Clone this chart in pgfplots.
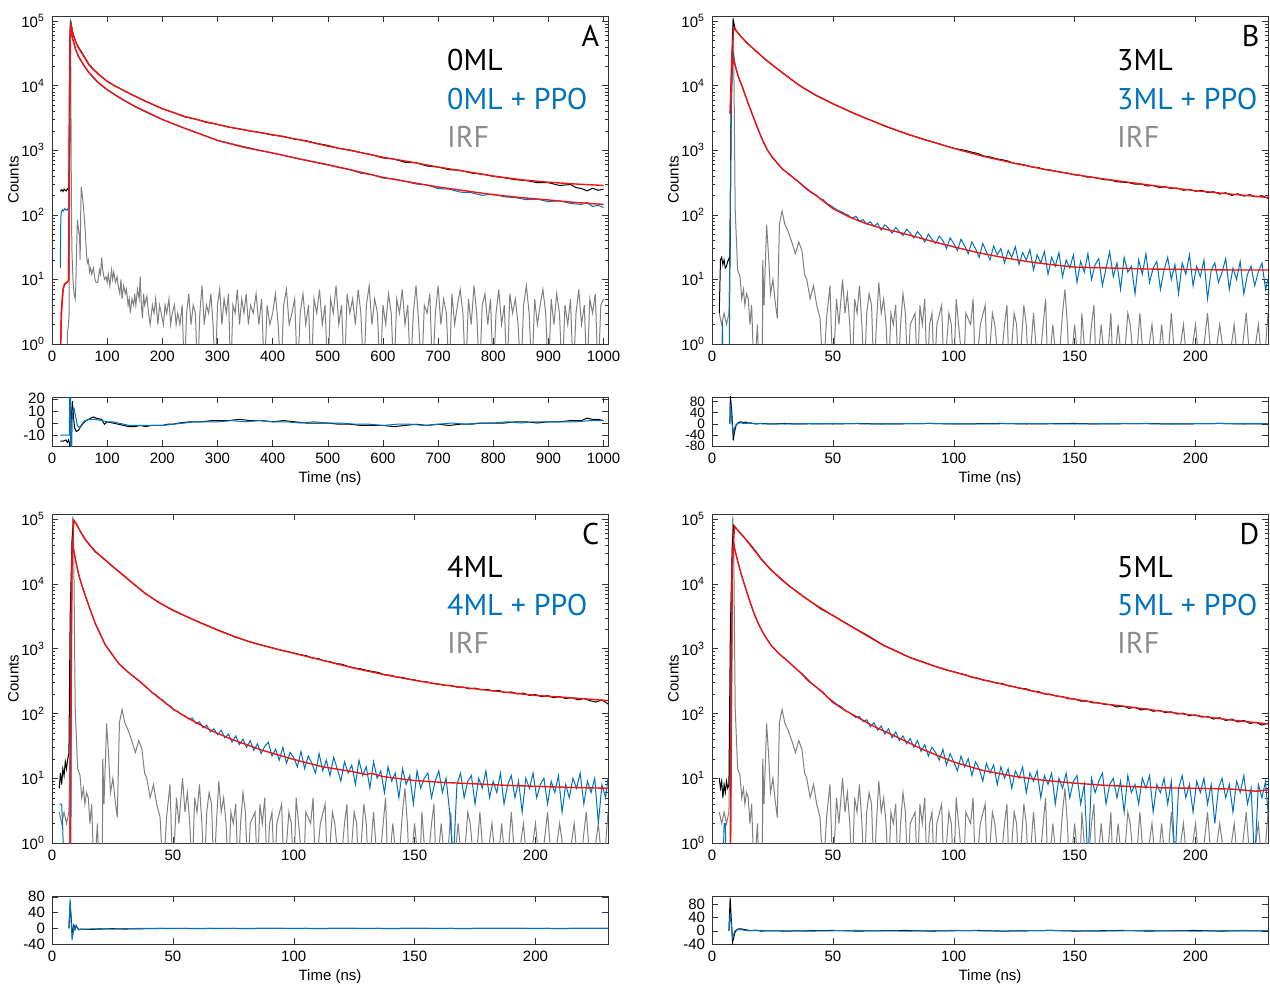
\documentclass[border=0pt]{standalone}
\usepackage{fontspec}
\setmainfont{Liberation Sans}
\newfontfamily\labfont{PT Sans}
\usepackage{pgfplots}
\usepackage{pgfplotstable}
\pgfplotsset{compat=1.18}

\definecolor{mblue}{RGB}{0,114,189}
\definecolor{mgray}{RGB}{128,128,128}
\definecolor{mred}{RGB}{238,20,20}
\definecolor{irfgray}{RGB}{140,140,140}

\tikzset{big/.style={font=\labfont\fontsize{15}{18}\selectfont, inner sep=0pt}}

\pgfplotsset{
  trpl/.style={
    scale only axis, width=278pt, anchor=south west,
    xmin=0, xmax=230, xtick={0,50,...,200},
    tick label style={font=\fontsize{7.5}{8}\selectfont},
    label style={font=\fontsize{7.5}{8}\selectfont},
    /pgf/number format/assume math mode=true,
    /pgf/number format/1000 sep={},
    axis line style={black!80}, tick style={black!80},
    major tick length=3pt, minor tick length=1.6pt, clip mode=individual,
  },
  mainax/.style={trpl, height=164pt,
    ymin=1, ymax=1.2e5,
    ytick={1,10,100,1000,10000,100000},
    minor ytick={2,3,4,5,6,7,8,9,20,30,40,50,60,70,80,90,200,300,400,500,600,700,800,900,2000,3000,4000,5000,6000,7000,8000,9000,20000,30000,40000,50000,60000,70000,80000,90000},
    yticklabels={10\textsuperscript{0},10\textsuperscript{1},10\textsuperscript{2},10\textsuperscript{3},10\textsuperscript{4},10\textsuperscript{5}},
    ylabel={Counts}, ylabel style={yshift=-5.5pt},
  },
  resax/.style={trpl, height=24.5pt, xlabel={Time (ns)}, xlabel style={yshift=3pt},
    yticklabel style={inner ysep=0pt}},
  dk/.style={black, line width=0.5pt},
  bl/.style={mblue, line width=0.5pt},
  gy/.style={mgray, line width=0.5pt},
  ft/.style={mred, line width=0.7pt},
}

% IRF shared by the 230 ns panels (B, C, D)
\pgfplotstableread{
t c
3 3
4 2
5 3
6 2
7 3
7.5 50
8 8000
8.6 110000
9 30000
9.6 118
10.6 14
11.6 11
12.3 5
13 7
13.6 4
14.3 6
15 5
15.7 2
16.4 4
17.4 0.3
18.8 2
19.5 0.3
20.8 0.3
21 20
21.5 4
22.6 70
23.5 20
24.2 6
25.2 10
26 5
27 2.5
27.9 72
29 115
30.1 72
31.5 55
33.1 37
34.5 25
35.9 38
37.2 28
38.3 12
39.2 10
40.6 5
42 8
43.3 4
44.7 2.5
46 0.3
47.4 2.5
48.8 8
50 0.3
51.5 5
52.5 2
54 10
55 3
56 6
57 2
58 0.3
59 5
60 3
61 8
62 2
63 0.3
64 3
65 6
66 4
67 0.3
68 2
69 9
70 3
71 5
72 2
73 0.3
74 3
75 2
76 4
77 0.3
78 2
79 6
80 3
81 0.3
82 2
84 3
85 0.3
86 4
87 2
88 5
89 0.3
90 2
91 3
92 0.3
93 2
95 4
96 0.3
98 3
99 2
100 0.3
101 5
102 2
104 0.3
105 3
107 2
108 5
109 0.3
111 2
113 4
114 0.3
116 3
117 2
119 0.3
121 2
122 4
123 0.3
125 3
126 2
127 0.3
129 4
130 2
131 0.3
133 3
135 0.3
137 2
138 5
139 0.3
141 2
143 0.3
145 3
146 7
147 2
148 0.3
150 2
152 0.3
153 3
155 0.3
157 2
158 4
159 0.3
161 2
163 0.3
165 3
166 0.3
168 2
170 0.3
172 3
173 2
175 0.3
177 3
179 0.3
182 2
184 0.3
186 2
188 0.3
190 3
192 0.3
195 2
197 0.3
200 2
202 0.3
205 3
207 0.3
210 2
213 0.3
216 2
218 0.3
221 3
223 0.3
226 2
228 0.3
230 3
}\irfbcd

\begin{document}
\begin{tikzpicture}
\path[use as bounding box] (0,0) rectangle (635pt,493.5pt);

% ---------------- A ----------------
\begin{axis}[mainax, ymode=log, at={(26pt,321.5pt)}, xmax=1008, xtick={0,100,...,1000}]
\addplot[gy] coordinates {
(27,0.3)(28,1.5)(30,2)(31,3)(32,500)(33,100000)(34,20000)(35,300)(36,30)(38,10)(40,6)(42,5)(43,7)(45,40)(46,84)(48,60)(50,45)(51,20)(52,100)(53,270)(55,200)(57,135)(59,80)(61,45)(62,30)(64,18)(66,20)(68,13)(70,15)(72,12)(75,15)(78,10)(80,9)(83,9)(86,14)(88,12)(90,22)(92,14)(95,10)(98,11)(100,9)(102,12)(105,8)(108,14)(110,10)(112,13)(115,9)(118,11)(120,8)(123,6)(125,10)(127,5)(130,8)(133,6)(135,7)(138,4)(140,5)(142,3)(145,5)(148,4)(150,6)(152,4)(155,7)(158,5)(160,11)(162,4)(164,2.5)(166,6)(168,4)(172,5.5)(175,3)(178,2)(182,4)(185,3)(188,5)(192,2)(195,4)(198,3)(202,2)(205,4)(208,3)(212,5)(215,2)(218,3)(222,4)(225,2)(228,3)(232,2)(236,4)(240,0.3)(244,3)(248,6)(252,2)(256,4)(260,3)(264,0.3)(268,3)(272,8)(276,2)(280,4)(284,3)(288,6)(292,2)(296,0.3)(300,4)(304,7)(308,2)(312,5)(316,3)(320,6)(324,0.3)(328,4)(332,3)(336,7)(340,2)(344,5)(348,3)(352,6)(356,2)(360,4)(365,3)(370,6)(375,2)(380,5)(385,0.3)(390,4)(395,2)(400,3)(405,6)(410,2)(415,0.3)(420,4)(425,7)(430,2)(435,3)(440,5)(445,0.3)(450,3)(455,6)(460,2)(465,4)(470,0.3)(475,5)(480,3)(485,7)(490,2)(495,4)(500,0.3)(505,5)(510,3)(515,8)(520,2)(525,4)(530,0.3)(535,6)(540,3)(545,5)(550,2)(555,7)(560,3)(565,0.3)(570,4)(575,8)(580,2)(585,5)(590,3)(595,0.3)(600,4)(605,2)(610,6)(615,3)(620,0.3)(625,5)(630,3)(635,7)(640,2)(645,4)(650,0.3)(655,3)(660,8)(665,2)(670,0.3)(675,4)(680,3)(685,6)(690,0.3)(695,3)(700,8)(705,2)(710,5)(715,3)(720,0.3)(725,6)(730,2)(735,4)(740,7)(745,3)(750,0.3)(755,5)(760,2)(765,8)(770,3)(775,0.3)(780,4)(785,6)(790,2)(795,5)(800,0.3)(805,3)(810,7)(815,2)(820,4)(825,0.3)(830,6)(835,3)(840,5)(845,2)(850,0.3)(855,4)(860,8)(865,3)(870,0.3)(875,5)(880,2)(885,4)(890,7)(895,3)(900,0.3)(905,5)(910,2)(915,6)(920,3)(925,0.3)(930,4)(935,2)(940,5)(945,0.3)(950,3)(955,7)(960,2)(965,4)(970,0.3)(975,5)(980,3)(985,6)(990,0.3)(995,4)(1000,5)
};
\addplot[dk] coordinates {
(15,240)(16,235)(18,245)(20,230)(22,250)(24,240)(26,235)(28,255)(30,240)(31,600)(32,20000)(33,70000)(34,98000)(35,90000)(37,70000)(40,58000)(43,48000)(47,41000)(52,35000)(60,27000)(67,21500)(75,18000)(85,15000)(100,11700)(115,9800)(127,8700)(140,7600)(155,6600)(170,5700)(185,5000)(200,4400)(220,3850)(240,3300)(260,3050)(280,2700)(300,2520)(320,2280)(340,2140)(360,1980)(380,1870)(400,1720)(420,1640)(440,1480)(460,1410)(480,1280)(500,1190)(520,1070)(540,1010)(560,920)(580,850)(600,760)(620,730)(640,650)(660,640)(680,570)(700,550)(720,500)(740,490)(760,445)(780,425)(800,395)(820,375)(840,350)(860,340)(880,315)(900,315)(920,285)(940,295)(950,265)(960,255)(970,235)(980,258)(990,240)(1000,250)
};
\addplot[bl] coordinates {
(15,15)(16,90)(17,110)(19,120)(21,115)(23,125)(25,120)(27,118)(29,125)(31,130)(32,3000)(33,60000)(34,100000)(35,80000)(37,55000)(40,44000)(43,36000)(47,29000)(52,24500)(60,19000)(67,15800)(75,13200)(85,10800)(100,8600)(115,7100)(127,6100)(140,5300)(155,4500)(170,3900)(185,3400)(200,3000)(220,2550)(240,2200)(260,1900)(280,1640)(300,1420)(320,1300)(340,1180)(360,1080)(380,980)(400,900)(420,830)(440,760)(460,700)(480,640)(500,590)(520,540)(540,500)(560,440)(580,420)(600,370)(620,360)(640,330)(660,300)(680,290)(700,255)(720,250)(740,225)(760,220)(780,200)(800,210)(820,190)(840,185)(860,172)(880,175)(900,160)(920,165)(940,150)(960,145)(970,155)(980,135)(990,140)(1000,130)
};
\addplot[ft] coordinates {
(15,0.5)(17,3)(20,7)(23,8.5)(27,9)(30,9.5)(31,200)(32,10000)(33,50000)(34,88000)(35,85000)(37,68000)(40,56000)(43,47000)(47,40000)(52,34000)(60,26500)(67,21000)(75,17800)(85,14800)(100,11700)(115,9800)(127,8700)(150,6900)(175,5500)(200,4400)(240,3350)(280,2750)(320,2300)(360,1990)(400,1740)(450,1450)(500,1160)(550,960)(600,780)(650,660)(700,550)(750,470)(800,400)(850,350)(900,320)(950,300)(1000,285)
};
\addplot[ft] coordinates {
(15,0.5)(17,3)(20,7)(23,8.5)(27,9)(30,9.5)(31,200)(32,10000)(33,50000)(34,90000)(35,80000)(37,55000)(40,45000)(43,36000)(47,30000)(52,25000)(60,19500)(67,16000)(75,13500)(85,11000)(100,8700)(115,7200)(127,6200)(150,4800)(175,3800)(200,3000)(240,2200)(280,1650)(300,1420)(350,1100)(400,910)(450,730)(500,600)(550,480)(600,380)(650,320)(700,270)(750,235)(800,205)(850,185)(900,170)(950,155)(1000,145)
};
\node[big, anchor=east] at (rel axis cs:0.985,0.94) {A};
\node[big, anchor=west] at (rel axis cs:0.71,0.866) {0ML};
\node[big, anchor=west, text=mblue] at (rel axis cs:0.71,0.747) {0ML + PPO};
\node[big, anchor=west, text=irfgray] at (rel axis cs:0.71,0.631) {IRF};
\end{axis}

\begin{axis}[resax, at={(26pt,270.5pt)}, xmax=1008, xtick={0,100,...,1000},
  ymin=-19, ymax=21.5, ytick={-10,0,10,20}]
\addplot[dk] coordinates {
(15,-15)(20,-15)(25,-14)(28,-16)(30,-14)(31.5,-16)(33,-25)(35,5)(37,18)(39,5)(41,-4)(44,-7)(48,-6)(52,-3)(57,0)(62,2)(70,4)(75,5)(80,4)(90,3)(95,-1)(100,1)(110,0)(120,-1)(130,-2)(140,-3)(150,-3)(160,-2)(170,-3)(180,-2)(190,-2)(200,-2)(210,-1)(220,-1)(230,0)(250,1)(270,1)(290,2)(300,2)(320,2)(340,3)(360,2)(380,2)(400,1)(420,2)(440,1)(460,0)(480,0)(500,0)(520,-1)(540,-1)(560,-2)(580,-2)(600,-2)(620,-3)(640,-2)(660,-1)(680,-2)(700,-1)(720,-2)(740,-1)(760,-1)(780,0)(800,0)(820,0)(840,1)(860,1)(880,0)(900,1)(920,1)(940,2)(960,2)(970,4)(980,3)(990,3)(1000,2)
};
\addplot[bl] coordinates {
(15,-10)(30,-10)(31.5,-10)(32,25)(33.5,25)(34,-25)(35.5,-25)(37,10)(40,12)(43,5)(46,-2)(50,-4)(54,-1)(60,2)(68,3)(78,3)(90,2)(100,1)(110,1)(120,0)(130,-1)(140,-2)(160,-2)(180,-2)(200,-2)(220,-1)(240,0)(260,1)(280,1)(300,1)(325,2)(350,1)(375,2)(400,1)(425,1)(450,0)(475,1)(500,0)(525,0)(550,-1)(575,-1)(600,-2)(625,-1)(650,-1)(675,-2)(700,-1)(725,0)(750,-1)(775,0)(800,0)(825,1)(850,0)(875,1)(900,1)(925,1)(950,1)(975,2)(1000,2)
};
\end{axis}

% ---------------- B ----------------
\begin{axis}[mainax, ymode=log, at={(356pt,321.5pt)}]
\addplot[gy] table {\irfbcd};
\addplot[dk] coordinates {
(3,3)(3.5,20)(4,22)(4.5,17)(5,20)(5.5,15)(6,16)(6.5,19)(7,21)(7.4,18)(7.9,4000)(8.5,60000)(8.9,100000)(9.5,78000)(10,71000)(12,57500)(14,48000)(16,40500)(19,32500)(22,25500)(26,19600)(30,15000)(33,12300)(36,10200)(40,8200)(43,7100)(47,6000)(50,5250)(54,4500)(57,4000)(60,3550)(63,3200)(67,2780)(70,2500)(74,2180)(77,2000)(81,1760)(85,1590)(88,1450)(92,1320)(96,1190)(100,1075)
(102.5,1030)(105,990)(107.5,935)(110,890)(112.5,815)(115,790)(117.5,740)(120,715)(122.5,680)(125,625)(127.5,610)(130,585)(132.5,550)(135,540)(137.5,505)(140,495)(142.5,470)(145,455)(147.5,440)(150,415)(152.5,410)(155,385)(157.5,380)(160,365)(162.5,350)(165,345)(167.5,325)(170,320)(172.5,315)(175,298)(177.5,300)(180,280)(182.5,285)(185,265)(187.5,272)(190,255)(192.5,260)(195,240)(197.5,248)(200,232)(202.5,240)(205,222)(207.5,228)(210,210)(212.5,220)(215,200)(217.5,212)(220,195)(222.5,205)(225,190)(227.5,198)(230,180)
};
\addplot[bl] coordinates {
(3,0.3)(4,0.3)(4.3,2.2)(4.6,0.3)(7,0.3)(7.3,4)(7.9,3700)(8.5,20000)(8.9,30000)(9.5,22000)(10,18000)(11,13500)(12.6,9300)(14,6600)(15,5200)(17,3300)(19,2100)(21,1400)(23,1000)(25,760)(27,640)(29,510)(32,430)(34,360)(36,320)(38,270)
(40,235)(41.5,215)(43,205)(44.5,180)(46,172)(47.5,150)(49,140)(50.5,128)(52,118)(53.5,112)(55,104)(56.5,98)(58,88)(59.5,95)(61,80)(62.5,84)(64,72)(65.5,78)(67,66)(68.5,74)(70,58)(71.5,70)(73,62)(74.5,52)(76,64)(77.5,55)(79,48)(80.5,60)(82,52)(83.5,44)(85,55)(86.5,47)(88,38)(89.5,50)(91,42)(92.5,36)(94,47)(95.5,40)(97,30)(98.5,44)(100,36)(101.5,28)(103,42)(104.5,33)(106,25)(107.5,38)(109,30)(110.5,22)(112,36)(113.5,27)(115,20)(116.5,33)(118,24)(119.5,30)(121,18)(122.5,28)(124,22)(125.5,32)(127,17)(128.5,26)(130,20)(131.5,29)(133,14)(134.5,24)(136,18)(137.5,27)(139,12)(140.5,22)(142,16)(143.5,26)(145,11)(146.5,20)(148,15)(149.5,24)(151,9)(152.5,19)(154,13)(155.5,25)(157,10)(158.5,17)(160,21)(161.5,8)(163,15)(164.5,27)(166,11)(167.5,18)(169,7)(170.5,22)(172,13)(173.5,16)(175,6)(176.5,20)(178,12)(179.5,25)(181,9)(182.5,15)(184,19)(185.5,7)(187,14)(188.5,22)(190,10)(191.5,17)(193,6)(194.5,18)(196,12)(197.5,24)(199,8)(200.5,16)(202,11)(203.5,20)(205,5)(206.5,14)(208,18)(209.5,9)(211,13)(212.5,21)(214,7)(215.5,15)(217,10)(218.5,19)(220,6)(221.5,12)(223,16)(224.5,8)(226,13)(227.5,18)(229,7)(230,10)
};
\addplot[ft] coordinates {
(7.5,3700)(8.2,30000)(9,79400)(10,70800)(12,57500)(14,47900)(16,40700)(19,32400)(22,25700)(26,19500)(30,15000)(36,10200)(43,7080)(50,5250)(57,3980)(63,3200)(70,2510)(77,2000)(85,1580)(92,1320)(100,1070)(112,810)(125,630)(137,510)(150,420)(162,360)(175,310)(187,270)(200,237)(215,209)(230,186)
};
\addplot[ft] coordinates {
(7.5,3700)(8.2,18000)(8.9,26000)(10,18000)(11,13500)(12.6,9500)(15,5300)(17,3350)(19,2150)(21,1400)(23,1000)(25,780)(27,630)(29,520)(32,420)(36,320)(40,240)(43,200)(50,125)(57,92)(63,75)(70,62)(77,54)(85,45)(92,38)(100,32)(110,26)(120,22)(130,19)(140,17)(150,15.5)(165,15)(180,14.5)(200,14.2)(215,14)(230,14)
};
\node[big, anchor=east] at (rel axis cs:0.985,0.94) {B};
\node[big, anchor=west] at (rel axis cs:0.728,0.866) {3ML};
\node[big, anchor=west, text=mblue] at (rel axis cs:0.728,0.747) {3ML + PPO};
\node[big, anchor=west, text=irfgray] at (rel axis cs:0.728,0.631) {IRF};
\end{axis}

\begin{axis}[resax, at={(356pt,270.5pt)}, ymin=-80, ymax=96, ytick={-80,-40,0,40,80},
  yticklabel style={font=\fontsize{6.8}{7}\selectfont}]
\addplot[dk] coordinates {
(7.4,0)(7.6,100)(8.2,40)(8.8,-60)(9.3,-30)(10,-5)(11,5)(12,7)(13,4)(14,6)(15,2)(16,3)(18,-1)(20,1)(25,-1)(30,1)(35,-1)(40,0)(50,-1)(60,1)(70,-1)(80,0)(90,1)(100,-1)(110,0)(120,1)(130,-1)(140,0)(150,1)(160,-1)(170,0)(180,1)(190,-1)(200,0)(210,1)(220,-1)(230,0)
};
\addplot[bl] coordinates {
(7.4,0)(7.6,70)(8.2,10)(8.8,-35)(9.3,-15)(10,-3)(11,2)(12,3)(13,1)(15,2)(20,0)(30,-1)(40,0)(50,1)(60,0)(70,-1)(80,0)(90,1)(100,0)(110,-1)(120,0)(130,1)(140,0)(150,-1)(160,0)(170,1)(180,0)(190,-1)(200,0)(210,1)(220,0)(230,0)
};
\end{axis}

% ---------------- C ----------------
\begin{axis}[mainax, ymode=log, at={(26pt,72pt)}, height=164.5pt]
\addplot[gy] table {\irfbcd};
\addplot[dk] coordinates {
(3,7)(3.5,12)(4,8)(4.5,14)(5,11)(5.5,18)(6,14)(6.5,20)(7,24)(7.5,3000)(8.3,50000)(9,97000)(10,85000)(12,62000)(13.8,48000)(16,38500)(18,31000)(20.7,26000)(24.5,19300)(28.9,14300)(33.5,10100)(38.6,7150)(44,5200)(50,3950)(56,3080)(62,2470)(67,2050)(71.6,1760)(76,1500)(81.3,1300)(86,1150)(90,1060)(95,940)(100,860)
(102.5,810)(105,785)(107.5,720)(110,705)(112.5,650)(115,630)(117.5,590)(120,575)(122.5,530)(125,505)(127.5,490)(130,465)(132.5,445)(135,430)(137.5,395)(140,390)(142.5,365)(145,360)(147.5,340)(150,330)(152.5,312)(155,308)(157.5,290)(160,284)(162.5,270)(165,272)(167.5,255)(170,256)(172.5,240)(175,246)(177.5,232)(180,235)(182.5,222)(185,226)(187.5,210)(190,215)(192.5,200)(195,206)(197.5,190)(200,196)(202.5,182)(205,188)(207.5,175)(210,182)(212.5,170)(215,176)(217.5,162)(220,170)(222.5,158)(225,150)(227.5,162)(230,140)
};
\addplot[bl] coordinates {
(3,4)(4,4)(4.5,1.5)(5,0.3)(7.8,0.3)(8.1,12000)(8.5,42000)(9,33000)(10,21000)(11,14000)(12.3,9700)(13.8,6500)(15.8,4000)(17.9,2450)(20,1700)(22,1150)(24.5,870)(27.5,590)(29,520)(31,450)(33,390)(34.4,360)(36,320)(38,275)
(40,235)(41.5,205)(43,195)(44.5,170)(46,160)(47.5,138)(49,130)(50.5,112)(52,108)(53.5,96)(55,92)(56.5,82)(58,85)(59.5,70)(61,74)(62.5,60)(64,66)(65.5,52)(67,58)(68.5,47)(70,55)(71.5,42)(73,48)(74.5,36)(76,45)(77.5,33)(79,40)(80.5,30)(82,38)(83.5,27)(85,34)(86.5,24)(88,31)(89.5,36)(91,22)(92.5,28)(94,19)(95.5,30)(97,17)(98.5,25)(100,21)(101.5,15)(103,26)(104.5,14)(106,22)(107.5,17)(109,12)(110.5,24)(112,13)(113.5,19)(115,11)(116.5,21)(118,14)(119.5,9)(121,18)(122.5,12)(124,16)(125.5,8)(127,19)(128.5,11)(130,15)(131.5,7)(133,18)(134.5,10)(136,13)(137.5,6)(139,15)(140.5,9)(142,12)(143.5,5)(145,14)(146.5,8)(148,11)(149.5,4)(151,13)(152.5,7)(154,10)(155.5,12)(157,5)(158.5,9)(160,13)(161.5,6)(163,10)(164.5,3)(166,0.5)(167.5,8)(169,12)(170.5,5)(172,9)(173.5,11)(175,4)(176.5,10)(178,7)(179.5,13)(181,5)(182.5,9)(184,6)(185.5,12)(187,4)(188.5,8)(190,11)(191.5,5)(193,9)(194.5,3)(196,10)(197.5,7)(199,12)(200.5,5)(202,8)(203.5,10)(205,4)(206.5,9)(208,6)(209.5,11)(211,3)(212.5,8)(214,5)(215.5,10)(217,7)(218.5,12)(220,4)(221.5,9)(223,6)(224.5,10)(226,2)(227.5,8)(229,5)(230,10)
};
\addplot[ft] coordinates {
(7.4,0.5)(8.3,20000)(9,95000)(10,85000)(12,62000)(13.8,48400)(16,38000)(18,31600)(20.7,25700)(24.5,19500)(28.9,14100)(33.5,10200)(38.6,7080)(44,5250)(50,3900)(56,3100)(62,2450)(71.6,1740)(81.3,1290)(90,1050)(100,850)(112,660)(125,500)(137,400)(150,325)(162,275)(175,240)(187,214)(200,190)(215,174)(230,158)
};
\addplot[ft] coordinates {
(7.4,0.5)(8.1,15000)(8.5,41000)(9,33000)(10,21000)(11,14100)(12.3,9600)(13.8,6600)(15.8,4000)(17.9,2450)(20,1650)(22,1150)(24.5,850)(27.5,600)(31,450)(34.4,355)(38,275)(41.3,213)(45.5,160)(50,118)(55,90)(60,71)(67,52)(75,39)(87,27)(100,19.5)(112,15)(125,12.5)(130,11.4)(132,11.9)(137,10.6)(150,9.2)(162,8.6)(175,8.2)(187,7.8)(200,7.5)(215,7.2)(230,7)
};
\node[big, anchor=east] at (rel axis cs:0.985,0.939) {C};
\node[big, anchor=west] at (rel axis cs:0.71,0.839) {4ML};
\node[big, anchor=west, text=mblue] at (rel axis cs:0.71,0.723) {4ML + PPO};
\node[big, anchor=west, text=irfgray] at (rel axis cs:0.71,0.608) {IRF};
\end{axis}

\begin{axis}[resax, at={(26pt,21.5pt)}, height=24pt, ymin=-40, ymax=82, ytick={-40,0,40,80}]
\addplot[dk] coordinates {
(7,0)(7.5,60)(8,20)(8.5,-20)(9,8)(9.5,2)(10,5)(11,-3)(12,-2)(15,-3)(20,-2)(25,-1)(30,-2)(40,-1)(50,0)(60,-1)(70,0)(80,-1)(90,0)(100,0)(110,-1)(120,0)(130,0)(140,-1)(150,0)(160,0)(170,-1)(180,0)(190,0)(200,0)(210,-1)(220,0)(230,0)
};
\addplot[bl] coordinates {
(7,0)(7.5,75)(8.3,-30)(9,5)(9.5,-5)(10,8)(11,-4)(12,-3)(15,-2)(20,-1)(25,-2)(30,-1)(40,0)(50,-1)(60,0)(70,-1)(80,0)(90,0)(100,-1)(110,0)(120,0)(130,-1)(140,0)(150,0)(160,-1)(170,0)(180,0)(190,0)(200,-1)(210,0)(220,0)(230,0)
};
\end{axis}

% ---------------- D ----------------
\begin{axis}[mainax, ymode=log, at={(356pt,72pt)}, height=164.5pt]
\addplot[gy] table {\irfbcd};
\addplot[dk] coordinates {
(3,10)(3.5,7)(4,9)(4.5,5)(5,8)(5.5,6)(6,9)(6.5,7)(7,8)(7.6,2000)(8.4,40000)(9,80000)(10,72000)(12,59000)(13.7,50500)(17,36000)(20.6,23800)(24.5,16500)(28.8,11800)(32,9200)(35,7700)(38,6300)(41,5300)(45,4100)(50,3270)(55,2530)(60,1980)(65,1550)(71,1130)(76,930)(82,730)(87,630)(92,540)(96,480)(100,440)
(102.5,415)(105,395)(107.5,360)(110,350)(112.5,325)(115,315)(117.5,295)(120,290)(122.5,268)(125,260)(127.5,245)(130,240)(132.5,222)(135,218)(137.5,200)(140,198)(142.5,185)(145,182)(147.5,168)(150,168)(152.5,155)(155,156)(157.5,146)(160,145)(162.5,138)(165,136)(167.5,126)(170,130)(172.5,120)(175,124)(177.5,113)(180,118)(182.5,108)(185,112)(187.5,103)(190,106)(192.5,98)(195,101)(197.5,92)(200,95)(202.5,88)(205,90)(207.5,82)(210,86)(212.5,78)(215,82)(217.5,74)(220,78)(222.5,70)(225,73)(227.5,66)(230,71)
};
\addplot[bl] coordinates {
(3,0.3)(4.5,0.3)(5,2)(5.5,2)(6,0.3)(7.5,0.3)(8.3,16000)(8.9,45000)(9.5,33000)(10.7,22000)(12,14500)(13.4,9800)(15.5,5600)(17.5,3400)(19.5,2300)(21.7,1600)(24.5,1120)(27.8,830)(31,660)(34,520)(36,450)(38,370)
(40,310)(41.5,285)(43,260)(44.5,225)(46,215)(47.5,180)(49,165)(50.5,150)(52,135)(53.5,128)(55,110)(56.5,105)(58,96)(59.5,86)(61,90)(62.5,75)(64,80)(65.5,62)(67,72)(68.5,55)(70,64)(71.5,48)(73,58)(74.5,42)(76,52)(77.5,38)(79,45)(80.5,34)(82,41)(83.5,30)(85,38)(86.5,26)(88,33)(89.5,22)(91,30)(92.5,25)(94,19)(95.5,28)(97,16)(98.5,24)(100,18)(101.5,13)(103,22)(104.5,15)(106,20)(107.5,11)(109,18)(110.5,14)(112,9)(113.5,17)(115,12)(116.5,16)(118,8)(119.5,15)(121,10)(122.5,14)(124,7)(125.5,13)(127,10)(128.5,15)(130,6)(131.5,12)(133,9)(134.5,13)(136,5)(137.5,11)(139,8)(140.5,12)(142,4)(143.5,10)(145,7)(146.5,12)(148,5)(149.5,9)(151,11)(152.5,4)(154,8)(155.5,0.5)(157,10)(158.5,6)(160,9)(161.5,12)(163,4)(164.5,8)(166,10)(167.5,5)(169,9)(170.5,3)(172,11)(173.5,6)(175,8)(176.5,4)(178,10)(179.5,7)(181,11)(182.5,3)(184,8)(185.5,6)(187,10)(188.5,4)(190,9)(191.5,0.5)(193,7)(194.5,11)(196,5)(197.5,8)(199,3)(200.5,9)(202,6)(203.5,10)(205,4)(206.5,8)(208,2)(209.5,7)(211,10)(212.5,5)(214,8)(215.5,3)(217,9)(218.5,6)(220,11)(221.5,4)(223,7)(224.5,0.5)(226,8)(227.5,5)(229,9)(230,3)
};
\addplot[ft] coordinates {
(7.6,0.5)(8.4,20000)(9.3,77600)(10,72000)(12,59000)(13.7,50100)(17,35000)(20.6,23400)(24.5,16300)(28.8,11600)(35,7590)(41,5250)(50,3240)(60,1950)(71,1120)(82,724)(92,537)(100,437)(112,331)(125,257)(137,204)(150,166)(162,141)(175,123)(187,107)(200,93)(215,79)(230,69)
};
\addplot[ft] coordinates {
(7.6,0.5)(8.3,16000)(8.9,44000)(9.5,33000)(10.7,22000)(12,14500)(13.4,9800)(15.5,5600)(17.5,3400)(19.5,2300)(21.7,1600)(24.5,1120)(27.8,830)(31,660)(34,520)(37.5,400)(41,295)(45,225)(50,148)(55,112)(60,88)(67,63)(75,46)(87,28)(100,17.8)(112,13.2)(125,10.7)(137,9.3)(150,8.4)(162,7.8)(175,7.4)(187,7.1)(200,7)(215,6.8)(225,6.3)(230,6.6)
};
\node[big, anchor=east] at (rel axis cs:0.985,0.939) {D};
\node[big, anchor=west] at (rel axis cs:0.728,0.839) {5ML};
\node[big, anchor=west, text=mblue] at (rel axis cs:0.728,0.723) {5ML + PPO};
\node[big, anchor=west, text=irfgray] at (rel axis cs:0.728,0.608) {IRF};
\end{axis}

\begin{axis}[resax, at={(356pt,21.5pt)}, height=24pt, ymin=-40, ymax=105, ytick={-40,0,40,80}]
\addplot[dk] coordinates {
(7,0)(7.5,100)(8.5,-35)(9.5,-5)(10.5,5)(12,6)(14,3)(16,0)(18,2)(20,-1)(25,0)(30,-1)(40,0)(50,1)(60,-1)(70,0)(80,1)(90,-1)(100,0)(110,1)(120,-1)(130,0)(140,1)(150,-1)(160,0)(170,1)(180,-1)(190,0)(200,1)(210,-1)(220,0)(230,0)
};
\addplot[bl] coordinates {
(7,0)(7.5,55)(8.5,-20)(9.5,0)(11,4)(13,2)(15,0)(20,1)(30,0)(40,-1)(50,0)(60,1)(70,0)(80,-1)(90,0)(100,1)(110,0)(120,-1)(130,0)(140,1)(150,0)(160,-1)(170,0)(180,1)(190,0)(200,-1)(210,0)(220,1)(230,0)
};
\end{axis}
\end{tikzpicture}
\end{document}
